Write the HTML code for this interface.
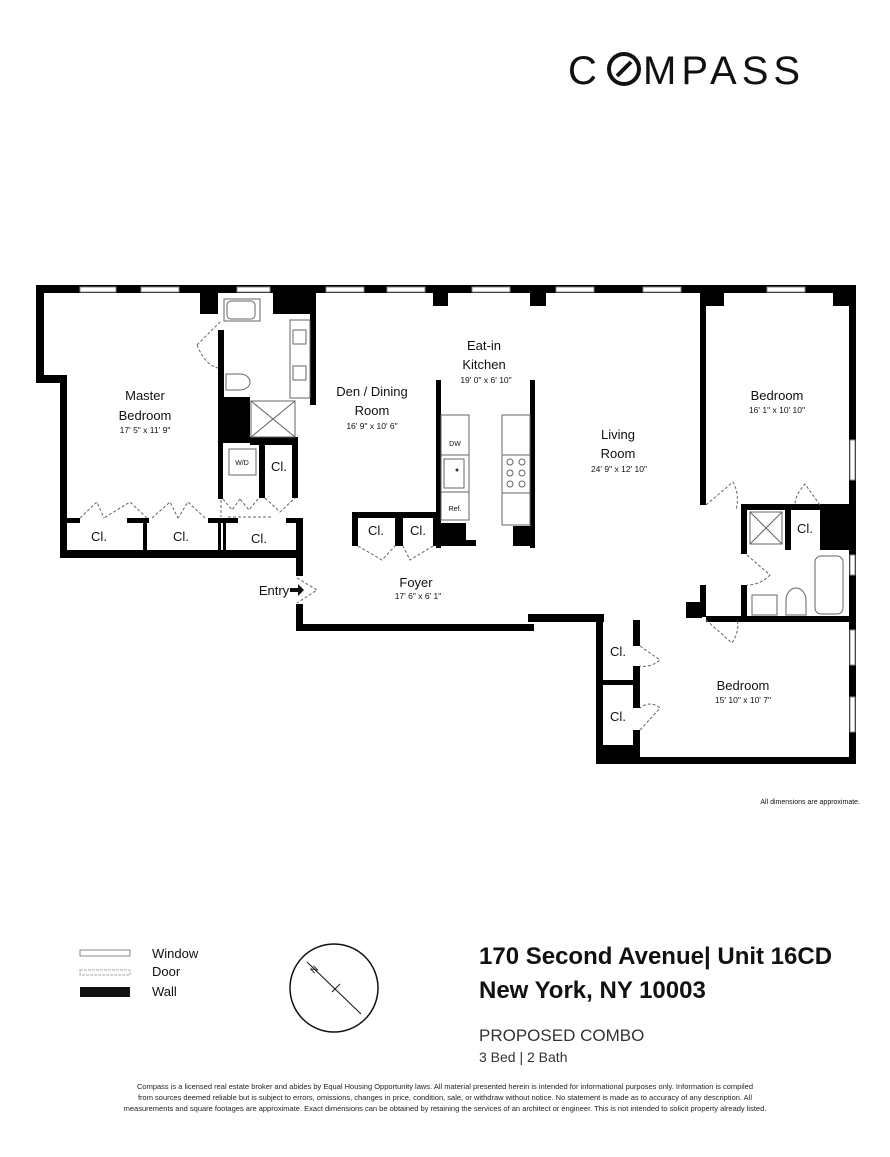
<!DOCTYPE html>
<html><head><meta charset="utf-8"><style>
body{margin:0;width:890px;height:1152px;background:#fff;overflow:hidden;font-family:"Liberation Sans",sans-serif}
svg text{font-family:"Liberation Sans",sans-serif}
</style></head><body>
<svg width="890" height="1152" viewBox="0 0 890 1152">
<!-- logo -->
<text x="568" y="84" font-size="40" letter-spacing="5" fill="#111">C</text>
<circle cx="624" cy="69" r="15" fill="none" stroke="#111" stroke-width="4"/>
<line x1="617" y1="76" x2="631" y2="62" stroke="#111" stroke-width="4"/>
<text x="643" y="84" font-size="40" letter-spacing="5" fill="#111">MPASS</text>

<g fill="#000">
<rect x="36" y="285" width="820" height="8"/>
<rect x="36" y="285" width="8" height="96"/>
<rect x="36" y="375" width="30" height="8"/>
<rect x="60" y="375" width="7" height="183"/>
<rect x="60" y="550" width="243" height="8"/>
<rect x="296" y="518" width="7" height="58"/>
<rect x="296" y="604" width="7" height="27"/>
<rect x="296" y="624" width="238" height="7"/>
<rect x="528" y="614" width="76" height="8"/>
<rect x="596" y="614" width="7" height="150"/>
<rect x="596" y="757" width="260" height="7"/>
<rect x="849" y="285" width="7" height="479"/>
<rect x="200" y="290" width="18" height="24"/>
<rect x="273" y="290" width="42" height="24"/>
<rect x="433" y="290" width="15" height="16"/>
<rect x="530" y="290" width="16" height="16"/>
<rect x="700" y="290" width="24" height="16"/>
<rect x="833" y="290" width="16" height="16"/>
<!-- bath block master -->
<rect x="218" y="330" width="6" height="70"/>
<rect x="218" y="397" width="32" height="43"/>
<rect x="310" y="290" width="6" height="115"/>
<rect x="218" y="437" width="80" height="6"/>
<rect x="250" y="437" width="48" height="8"/>
<rect x="218" y="437" width="5" height="62"/>
<rect x="259" y="443" width="6" height="55"/>
<rect x="292" y="443" width="6" height="55"/>
<!-- closets master -->
<rect x="66" y="518" width="14" height="5"/>
<rect x="127" y="518" width="22" height="5"/>
<rect x="143" y="518" width="4" height="36"/>
<rect x="208" y="518" width="30" height="5"/>
<rect x="218" y="518" width="3" height="36"/>
<rect x="223" y="518" width="3" height="36"/>
<rect x="286" y="518" width="17" height="5"/>
<!-- foyer closets -->
<rect x="352" y="512" width="86" height="6"/>
<rect x="352" y="512" width="6" height="34"/>
<rect x="395" y="512" width="8" height="34"/>
<rect x="433" y="512" width="6" height="34"/>
<!-- kitchen -->
<rect x="436" y="380" width="5" height="168"/>
<rect x="530" y="380" width="5" height="168"/>
<rect x="441" y="523" width="25" height="20"/>
<rect x="441" y="540" width="35" height="6"/>
<rect x="513" y="526" width="20" height="20"/>
<rect x="700" y="293" width="6" height="212"/>
<rect x="700" y="585" width="6" height="32"/>
<rect x="686" y="602" width="16" height="16"/>
<rect x="741" y="504" width="80" height="6"/>
<rect x="741" y="504" width="6" height="50"/>
<rect x="741" y="585" width="6" height="35"/>
<rect x="785" y="504" width="6" height="46"/>
<rect x="820" y="504" width="30" height="46"/>
<rect x="706" y="616" width="143" height="6"/>
<rect x="603" y="680" width="36" height="5"/>
<rect x="633" y="620" width="7" height="26"/>
<rect x="633" y="666" width="7" height="42"/>
<rect x="633" y="730" width="7" height="30"/>
<rect x="600" y="745" width="40" height="14"/>
</g>
<g fill="#fff" stroke="#888" stroke-width="1">
<rect x="80" y="287" width="36" height="5"/><rect x="141" y="287" width="38" height="5"/>
<rect x="237" y="287" width="33" height="5"/><rect x="326" y="287" width="38" height="5"/>
<rect x="387" y="287" width="38" height="5"/><rect x="472" y="287" width="38" height="5"/>
<rect x="556" y="287" width="38" height="5"/><rect x="643" y="287" width="38" height="5"/>
<rect x="767" y="287" width="38" height="5"/>
<rect x="850" y="440" width="5" height="40"/><rect x="850" y="555" width="5" height="20"/>
<rect x="850" y="630" width="5" height="35"/><rect x="850" y="697" width="5" height="35"/>
</g>
<g fill="none" stroke="#666" stroke-width="1">
<rect x="227" y="301" width="28" height="18" rx="4"/>
<rect x="224" y="299" width="36" height="22"/>
<rect x="290" y="320" width="20" height="78"/>
<rect x="293" y="330" width="13" height="14"/><rect x="293" y="366" width="13" height="14"/>
<path d="M226 374 h14 a10 8 0 0 1 0 16 h-14z"/>
<rect x="251" y="401" width="44" height="36"/><path d="M251 401 L295 437 M295 401 L251 437"/>
<rect x="229" y="449" width="27" height="26"/>
<rect x="441" y="415" width="28" height="105"/><path d="M441 455 h28 M441 492 h28"/>
<rect x="444" y="459" width="20" height="29"/>
<rect x="502" y="415" width="28" height="110"/><path d="M502 455 h28 M502 493 h28"/>
<rect x="750" y="512" width="32" height="32"/><path d="M750 512 L782 544 M782 512 L750 544"/>
<rect x="815" y="556" width="28" height="58" rx="6"/>
<rect x="752" y="595" width="25" height="20"/>
<path d="M786 615 v-15 a10 12 0 0 1 20 0 v15z"/>
<g stroke-dasharray="3,2">
<path d="M197 345 L220 322 M197 345 Q205 365 218 368"/>
<path d="M80 518 L97 502 L104 518 M147 518 L130 502 L104 518"/>
<path d="M152 518 L170 502 L178 518 M205 518 L188 502 L178 518"/>
<path d="M228 517 H272"/><path d="M221 500 V517"/>
<path d="M223 499 L232 510 L240 499 M258 499 L249 510 L240 499"/>
<path d="M265 498 L280 512 L295 498"/>
<path d="M297 578 L317 590 L297 603"/>
<path d="M358 546 L382 560 L395 546 M433 546 L410 560 L403 546"/>
<path d="M706 505 L733 482 Q740 495 736 510"/>
<path d="M820 505 L805 484 Q795 495 795 505"/>
<path d="M747 555 L770 575 Q760 585 747 585"/>
<path d="M706 620 L732 643 Q740 630 737 620"/>
<path d="M640 646 L660 660 Q650 668 640 666"/>
<path d="M640 730 L660 708 Q650 700 640 708"/>
</g>
</g>
<circle cx="457" cy="470" r="1.5" fill="#333"/>
<g fill="none" stroke="#666"><circle cx="510" cy="462" r="3"/><circle cx="522" cy="462" r="3"/><circle cx="510" cy="473" r="3"/><circle cx="522" cy="473" r="3"/><circle cx="510" cy="484" r="3"/><circle cx="522" cy="484" r="3"/></g>

<g font-size="13" fill="#111" text-anchor="middle">
<text x="145" y="400">Master</text><text x="145" y="420">Bedroom</text>
<text x="372" y="396">Den / Dining</text><text x="372" y="415">Room</text>
<text x="484" y="350">Eat-in</text><text x="484" y="369">Kitchen</text>
<text x="618" y="439">Living</text><text x="618" y="458">Room</text>
<text x="777" y="400">Bedroom</text>
<text x="743" y="690">Bedroom</text>
<text x="416" y="587">Foyer</text>
<text x="99" y="541">Cl.</text><text x="181" y="541">Cl.</text><text x="259" y="543">Cl.</text>
<text x="376" y="535">Cl.</text><text x="418" y="535">Cl.</text>
<text x="279" y="471">Cl.</text><text x="805" y="533">Cl.</text>
<text x="618" y="656">Cl.</text><text x="618" y="721">Cl.</text>
<text x="274" y="595">Entry</text>
</g>
<path d="M290 588 h8 v-4 l6 6 l-6 6 v-4 h-8z" fill="#111"/>
<g font-size="8.5" fill="#111" text-anchor="middle">
<text x="145" y="433">17' 5" x 11' 9"</text>
<text x="372" y="429">16' 9" x 10' 6"</text>
<text x="486" y="383">19' 0" x 6' 10"</text>
<text x="619" y="472">24' 9" x 12' 10"</text>
<text x="777" y="413">16' 1" x 10' 10"</text>
<text x="743" y="703">15' 10" x 10' 7"</text>
<text x="418" y="599">17' 6" x 6' 1"</text>
<text x="242" y="465" font-size="7">W/D</text>
<text x="455" y="446" font-size="7">DW</text>
<text x="455" y="511" font-size="7">Ref.</text>
</g>
<text x="860" y="804" font-size="7" text-anchor="end" fill="#111">All dimensions are approximate.</text>

<rect x="80" y="950" width="50" height="6" fill="#fff" stroke="#888"/>
<rect x="80" y="970" width="50" height="5" fill="#fff" stroke="#aaa" stroke-dasharray="3,1"/>
<rect x="80" y="987" width="50" height="10" fill="#111"/>
<g font-size="13" fill="#111"><text x="152" y="958">Window</text><text x="152" y="976">Door</text><text x="152" y="996">Wall</text></g>
<circle cx="334" cy="988" r="44" fill="none" stroke="#111" stroke-width="1.5"/>
<line x1="307" y1="962" x2="361" y2="1014" stroke="#111"/>
<line x1="332" y1="992" x2="340" y2="984" stroke="#111"/>
<text x="314" y="974" font-size="9" transform="rotate(-45 314 974)">N</text>
<g font-weight="bold" font-size="24" fill="#111">
<text x="479" y="964">170 Second Avenue| Unit 16CD</text>
<text x="479" y="998">New York, NY 10003</text></g>
<text x="479" y="1041" font-size="17" fill="#333">PROPOSED COMBO</text>
<text x="479" y="1062" font-size="14" fill="#333">3 Bed | 2 Bath</text>
<g font-size="7.5" fill="#222" text-anchor="middle">
<text x="445" y="1089">Compass is a licensed real estate broker and abides by Equal Housing Opportunity laws. All material presented herein is intended for informational purposes only. Information is compiled</text>
<text x="445" y="1100">from sources deemed reliable but is subject to errors, omissions, changes in price, condition, sale, or withdraw without notice. No statement is made as to accuracy of any description. All</text>
<text x="445" y="1111">measurements and square footages are approximate. Exact dimensions can be obtained by retaining the services of an architect or engineer. This is not intended to solicit property already listed.</text>
</g>
</svg>
</body></html>
